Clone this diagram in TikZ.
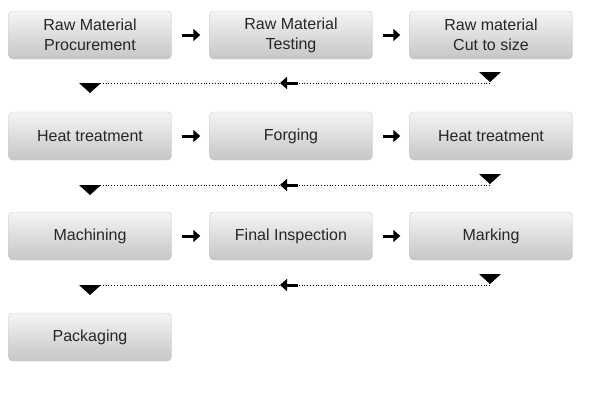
\documentclass[tikz,border=0pt]{standalone}
\usepackage{fontspec}
\setmainfont{Liberation Sans}
\usetikzlibrary{arrows.meta}

\tikzset{
  stagebox/.style={rounded corners=4pt, top color=gray!8, bottom color=gray!45,
    draw=gray!40, minimum width=163pt, minimum height=48pt, align=center,
    inner sep=0pt, font=\fontsize{16}{20}\selectfont, text=black!85},
  nextarrow/.style={line width=3pt, -{Triangle[length=7pt,width=12pt]},
    shorten <=10pt, shorten >=9pt},
  backline/.style={dotted, line width=0.8pt},
  backtip/.style={line width=3pt, -{Triangle[length=7pt,width=12pt]}},
}

\begin{document}
\begin{tikzpicture}[x=1pt,y=-1pt]
  \useasboundingbox (0,0) rectangle (600,400);
  % stages
  \node[stagebox] (s1) at (90,35) {Raw Material\\Procurement};
  \node[stagebox] (s2) at (291,35) {Raw Material\\Testing};
  \node[stagebox] (s3) at (491,35) {Raw material\\Cut to size};
  \node[stagebox] (s4) at (90,136) {Heat treatment};
  \node[stagebox] (s5) at (291,136) {Forging};
  \node[stagebox] (s6) at (491,136) {Heat treatment};
  \node[stagebox] (s7) at (90,236) {Machining};
  \node[stagebox] (s8) at (291,236) {Final Inspection};
  \node[stagebox] (s9) at (491,236) {Marking};
  \node[stagebox] (s10) at (90,337) {Packaging};
  % arrows along a row
  \draw[nextarrow] (s1.east) -- (s2.west);
  \draw[nextarrow] (s2.east) -- (s3.west);
  \draw[nextarrow] (s4.east) -- (s5.west);
  \draw[nextarrow] (s5.east) -- (s6.west);
  \draw[nextarrow] (s7.east) -- (s8.west);
  \draw[nextarrow] (s8.east) -- (s9.west);
  % return to the next row
  \foreach \y/\n in {83/1,185/2,285/3} {
    \coordinate (r\n) at (490,\y);
    \coordinate (l\n) at (90,\y+2);
    \draw[backline] (r\n) -- (95,\y);
    \draw[backtip] (298,\y) -- (280,\y);
    \fill (479,\y-11) -- (501,\y-11) -- (490,\y-1) -- cycle;
    \fill (79,\y) -- (101,\y) -- (90,\y+10) -- cycle;
  }
\end{tikzpicture}
\end{document}
